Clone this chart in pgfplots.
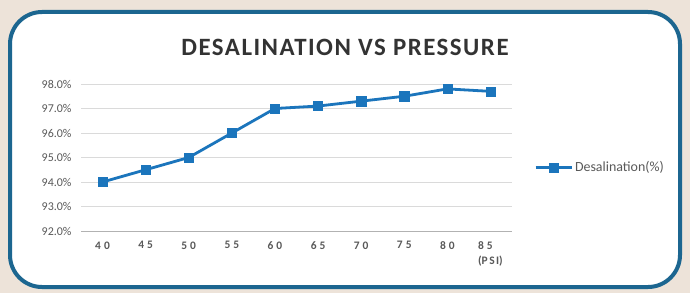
\documentclass[border=0pt]{standalone}
\usepackage{fontspec}
\setmainfont{Carlito}
\usepackage{pgfplots}
\pgfplotsset{compat=1.18}
\definecolor{bgbeige}{HTML}{EDE3D9}
\definecolor{frameblue}{HTML}{1C6690}
\definecolor{lineblue}{HTML}{1B75BC}
\definecolor{txtgray}{HTML}{595959}
\definecolor{gridgray}{HTML}{DADADA}
\begin{document}
\begin{tikzpicture}[x=1bp,y=1bp]
\fill[bgbeige] (0,0) rectangle (690,293);
\draw[line width=4bp, frameblue, fill=white, rounded corners=32bp] (10,6) rectangle (680,281);
\node[font=\fontsize{25}{29}\selectfont\bfseries\addfontfeatures{LetterSpace=6}, text=black!80] at (345,246) {DESALINATION VS PRESSURE};
\begin{axis}[
  at={(81bp,62bp)}, anchor=south west,
  scale only axis, width=431bp, height=147bp,
  xmin=-0.5, xmax=9.5, ymin=92, ymax=98,
  axis x line*=bottom, axis y line*=left,
  x axis line style={draw=black!30, line width=1bp, -},
  y axis line style={draw=none},
  xtick={0,...,9},
  xticklabels={4\hspace{3bp}0,4\hspace{3bp}5,5\hspace{3bp}0,5\hspace{3bp}5,6\hspace{3bp}0,6\hspace{3bp}5,7\hspace{3bp}0,7\hspace{3bp}5,8\hspace{3bp}0,8\hspace{3bp}5\\(P\hspace{1.5bp}S\hspace{1.5bp}I)},
  x tick label style={font=\fontsize{11.5}{15}\selectfont\bfseries, text=txtgray, align=left, anchor=north, yshift=-7bp},
  ytick={92,...,98},
  yticklabels={92.0\%,93.0\%,94.0\%,95.0\%,96.0\%,97.0\%,98.0\%},
  y tick label style={font=\fontsize{12}{14}\selectfont, text=txtgray, anchor=east, xshift=-6bp},
  ymajorgrids, grid style={gridgray, line width=1bp},
  major tick length=0pt,
  /pgf/number format/assume math mode=true,
  clip=false,
  legend style={at={(1,0.5)}, anchor=west, xshift=22bp, yshift=-10bp, draw=none, fill=none, inner sep=0pt,
    font=\fontsize{14}{16}\selectfont, text=txtgray},
  legend image code/.code={
    \draw[#1, mark repeat=2, mark phase=2] plot coordinates {(0bp,0bp) (18bp,0bp) (36bp,0bp)};
  },
]
\addplot[color=lineblue, line width=2.8bp, mark=square*, mark size=4.6bp,
  mark options={solid, fill=lineblue, draw=lineblue, line width=0.4bp}]
  coordinates {(0,94.0) (1,94.5) (2,95.0) (3,96.0) (4,97.0) (5,97.1) (6,97.3) (7,97.5) (8,97.8) (9,97.7)};
\addlegendentry{Desalination(\%)}
\end{axis}
\end{tikzpicture}
\end{document}
